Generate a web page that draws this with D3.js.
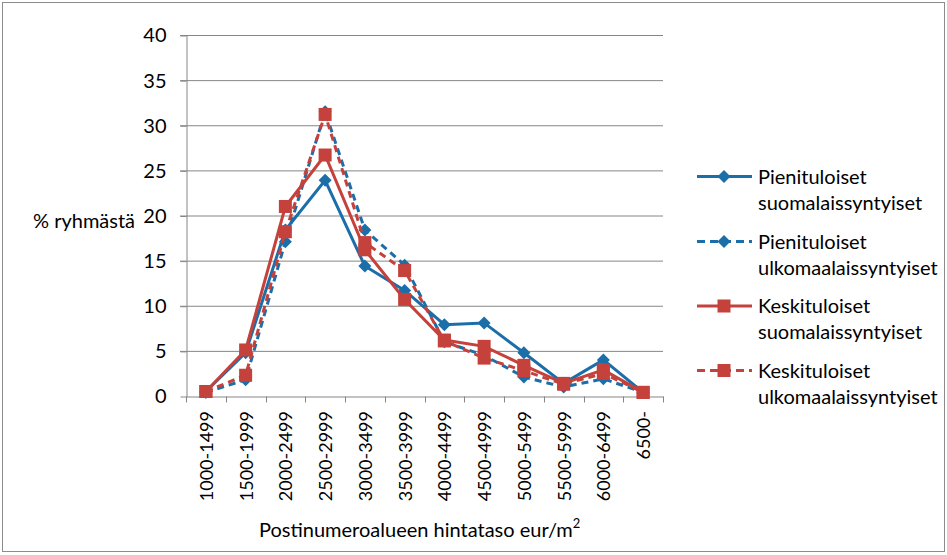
<!DOCTYPE html>
<html>
<head>
<meta charset="utf-8">
<script src="https://cdn.jsdelivr.net/npm/d3@7"></script>
<style>
  body { margin: 0; background: #fff; }
  text { font-family: Lato, "Open Sans", sans-serif; fill: #000; }
</style>
</head>
<body>
<div id="graph"></div>
<script>
// tiedot luettu kuvasta
const categories = ["1000-1499", "1500-1999", "2000-2499", "2500-2999", "3000-3499", "3500-3999",
    "4000-4499", "4500-4999", "5000-5499", "5500-5999", "6000-6499", "6500-"];
const pieniSuomi = [0.5, 4.8, 18.4, 23.9, 14.4, 11.7, 7.9, 8.1, 4.8, 1.4, 4.0, 0.4];
const pieniUlko = [0.4, 1.8, 17.1, 31.5, 18.4, 14.5, 6.0, 4.5, 2.1, 1.0, 1.9, 0.4];
const keskiSuomi = [0.5, 5.1, 21.0, 26.7, 16.2, 10.7, 6.2, 5.5, 3.4, 1.4, 2.9, 0.4];
const keskiUlko = [0.5, 2.3, 18.2, 31.2, 17.0, 13.9, 6.1, 4.2, 2.8, 1.3, 2.5, 0.4];
const yTicks = [0, 5, 10, 15, 20, 25, 30, 35, 40];

const series = [
    {name: ["Pienituloiset", "suomalaissyntyiset"], values: pieniSuomi, color: "#1c6ea9", dash: null, marker: "diamond"},
    {name: ["Pienituloiset", "ulkomaalaissyntyiset"], values: pieniUlko, color: "#1c6ea9", dash: "7,5", marker: "diamond"},
    {name: ["Keskituloiset", "suomalaissyntyiset"], values: keskiSuomi, color: "#c4413c", dash: null, marker: "square"},
    {name: ["Keskituloiset", "ulkomaalaissyntyiset"], values: keskiUlko, color: "#c4413c", dash: "7,5", marker: "square"}
];

const width = 947;
const height = 555;
const fontSize = "20px";
var margins = {top: 35, left: 186, right: 284, bottom: 159};

var svg = d3.select("#graph").append("svg")
    .attr("width", width).attr("height", height);

// reunus
svg.append("rect")
    .attr("x", 2.5).attr("y", 2.5)
    .attr("width", width - 5).attr("height", height - 6)
    .attr("fill", "none").attr("stroke", "#8c8c8c").attr("stroke-width", 1);

var x = d3.scaleBand().domain(categories)
    .range([margins.left, width - margins.right]);
var y = d3.scaleLinear().domain([0, 40])
    .range([height - margins.bottom, margins.top]);

// ruudukko
svg.append("g").selectAll("line")
    .data(yTicks.slice(1))
    .enter().append("line")
    .attr("x1", margins.left - 6).attr("x2", width - margins.right)
    .attr("y1", d => y(d) + 0.5).attr("y2", d => y(d) + 0.5)
    .attr("stroke", "#868686").attr("stroke-width", 1);

// y-akseli
var yAxis = svg.append("g")
    .attr("transform", "translate(" + (margins.left + 0.5) + ",0.5)")
    .call(d3.axisLeft(y).tickValues(yTicks).tickSize(6).tickPadding(14).tickSizeOuter(0));
yAxis.select(".domain").attr("stroke", "#868686");
yAxis.selectAll(".tick line").attr("stroke", "#868686");
yAxis.selectAll(".tick text").attr("font-size", fontSize)
    .style("font-family", "Lato, 'Open Sans', sans-serif");

// x-akseli
var xAxis = svg.append("g")
    .attr("transform", "translate(0," + (y(0) + 0.5) + ")")
    .call(d3.axisBottom(x).tickSize(0).tickFormat(""));
xAxis.select(".domain").attr("stroke", "#868686");
var xEdges = categories.map(c => x(c)).concat([width - margins.right]);
xAxis.selectAll(".edge")
    .data(xEdges).enter().append("line")
    .attr("x1", d => Math.round(d) + 0.5).attr("x2", d => Math.round(d) + 0.5)
    .attr("y1", 0).attr("y2", 6)
    .attr("stroke", "#868686");

svg.append("g").selectAll("text")
    .data(categories).enter().append("text")
    .attr("transform", d => "translate(" + (x(d) + x.bandwidth() / 2 + 7) + "," + (y(0) + 15) + ") rotate(-90)")
    .attr("text-anchor", "end")
    .attr("font-size", "18px")
    .text(d => d);

// otsikot
svg.append("text")
    .attr("x", 33).attr("y", 228)
    .attr("font-size", fontSize)
    .text("% ryhmästä");

var xt = svg.append("text")
    .attr("x", 259)
    .attr("y", 537)
    .attr("font-size", fontSize)
    .text("Postinumeroalueen hintataso eur/m");
xt.append("tspan").attr("font-size", "13px").attr("dy", -9).text("2");

// viivat
var line = d3.line()
    .x((d, i) => x(categories[i]) + x.bandwidth() / 2)
    .y(d => y(d));

function drawMarker(g, type, color) {
    if (type === "diamond") {
        g.append("path").attr("d", "M0,-6.5L6.5,0L0,6.5L-6.5,0Z").attr("fill", color);
    } else {
        g.append("rect").attr("x", -6.5).attr("y", -6.5)
            .attr("width", 13).attr("height", 13).attr("fill", color);
    }
}

series.forEach(function (s) {
    var g = svg.append("g");
    g.append("path")
        .datum(s.values)
        .attr("d", line)
        .attr("fill", "none")
        .attr("stroke", s.color)
        .attr("stroke-width", 3)
        .attr("stroke-dasharray", s.dash);
    g.selectAll(".pt")
        .data(s.values).enter().append("g")
        .attr("transform", (d, i) => "translate(" + (x(categories[i]) + x.bandwidth() / 2) + "," + y(d) + ")")
        .each(function () { drawMarker(d3.select(this), s.marker, s.color); });
});

// selite
var legend = svg.append("g").attr("transform", "translate(697,0)");
var legendY = [176.5, 241.5, 306, 370.5];
series.forEach(function (s, i) {
    var row = legend.append("g").attr("transform", "translate(0," + legendY[i] + ")");
    row.append("line")
        .attr("x1", 0).attr("x2", 55)
        .attr("y1", 0).attr("y2", 0)
        .attr("stroke", s.color).attr("stroke-width", 3)
        .attr("stroke-dasharray", s.dash ? "8,5" : null);
    var m = row.append("g").attr("transform", "translate(27,0)");
    drawMarker(m, s.marker, s.color);
    row.append("text")
        .attr("x", 61).attr("y", 7)
        .attr("font-size", fontSize)
        .text(s.name[0]);
    row.append("text")
        .attr("x", 61).attr("y", 33)
        .attr("font-size", fontSize)
        .text(s.name[1]);
});
</script>
</body>
</html>
